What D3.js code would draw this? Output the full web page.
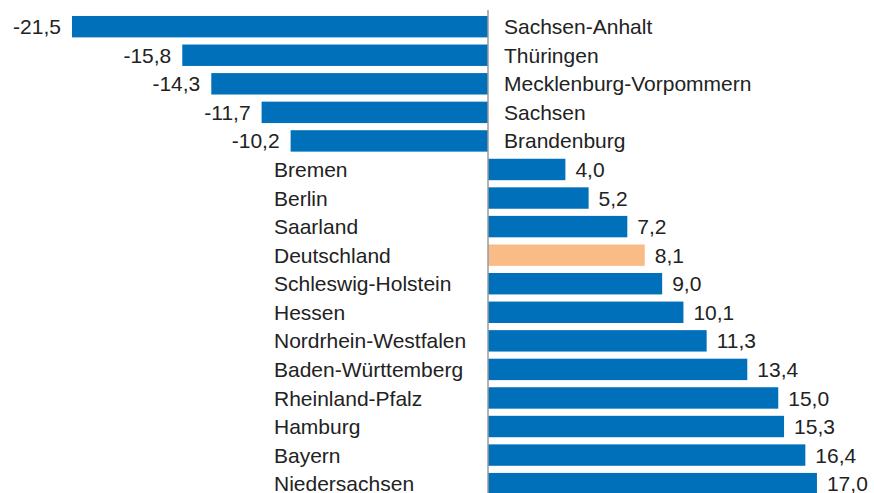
<!DOCTYPE html>
<html>
<head>
<meta charset="utf-8">
<script src="https://cdn.jsdelivr.net/npm/d3@7"></script>
<style>
  body { margin: 0; background: #fff; }
  text { font-family: "Liberation Sans", Arial, sans-serif; font-size: 21px; fill: #222; }
</style>
</head>
<body>
<div id="chart"></div>
<script>
// Data
const states = ['Sachsen-Anhalt', 'Thüringen', 'Mecklenburg-Vorpommern', 'Sachsen', 'Brandenburg',
  'Bremen', 'Berlin', 'Saarland', 'Deutschland', 'Schleswig-Holstein', 'Hessen',
  'Nordrhein-Westfalen', 'Baden-Württemberg', 'Rheinland-Pfalz', 'Hamburg', 'Bayern', 'Niedersachsen'];
const values = [-21.5, -15.8, -14.3, -11.7, -10.2, 4.0, 5.2, 7.2, 8.1, 9.0, 10.1, 11.3, 13.4, 15.0, 15.3, 16.4, 17.0];
const highlight = ['Deutschland'];

const data = states.map((s, i) => ({ name: s, value: values[i] }));

const width = 874, height = 493;
const svg = d3.select('#chart').append('svg')
  .attr('width', width)
  .attr('height', height);

// Scales
const xScale = d3.scaleLinear()
  .domain([-25, 20])
  .range([488 - 25 * 19.35, 488 + 20 * 19.35]);

const yScale = d3.scaleBand()
  .domain(states)
  .range([12.4, 12.4 + 17 * 28.56])
  .paddingInner(0.25)
  .paddingOuter(0.125);

const fmt = v => d3.format('.1f')(v).replace('.', ',').replace('−', '-');

// Bars
svg.selectAll('rect')
  .data(data)
  .join('rect')
  .attr('x', d => xScale(Math.min(0, d.value)))
  .attr('y', d => yScale(d.name))
  .attr('width', d => Math.abs(xScale(d.value) - xScale(0)))
  .attr('height', yScale.bandwidth())
  .attr('fill', d => highlight.includes(d.name) ? '#f9bc86' : '#0070bb');

// Zero line
svg.append('line')
  .attr('x1', xScale(0)).attr('x2', xScale(0))
  .attr('y1', 10).attr('y2', height)
  .attr('stroke', '#9a9a9a')
  .attr('stroke-width', 1.5);

const mid = d => yScale(d.name) + yScale.bandwidth() / 2;

// Value labels
svg.selectAll('.valueLabel')
  .data(data)
  .join('text')
  .attr('class', 'valueLabel')
  .text(d => fmt(d.value))
  .attr('text-anchor', d => d.value < 0 ? 'end' : 'start')
  .attr('x', d => d.value < 0 ? xScale(d.value) - 11 : xScale(d.value) + 10)
  .attr('y', mid)
  .attr('dy', '0.36em');

// Name labels
svg.selectAll('.nameLabel')
  .data(data)
  .join('text')
  .attr('class', 'nameLabel')
  .text(d => d.name)
  .attr('text-anchor', 'start')
  .attr('x', d => d.value < 0 ? xScale(0) + 16 : 274)
  .attr('y', mid)
  .attr('dy', '0.36em');
</script>
</body>
</html>
